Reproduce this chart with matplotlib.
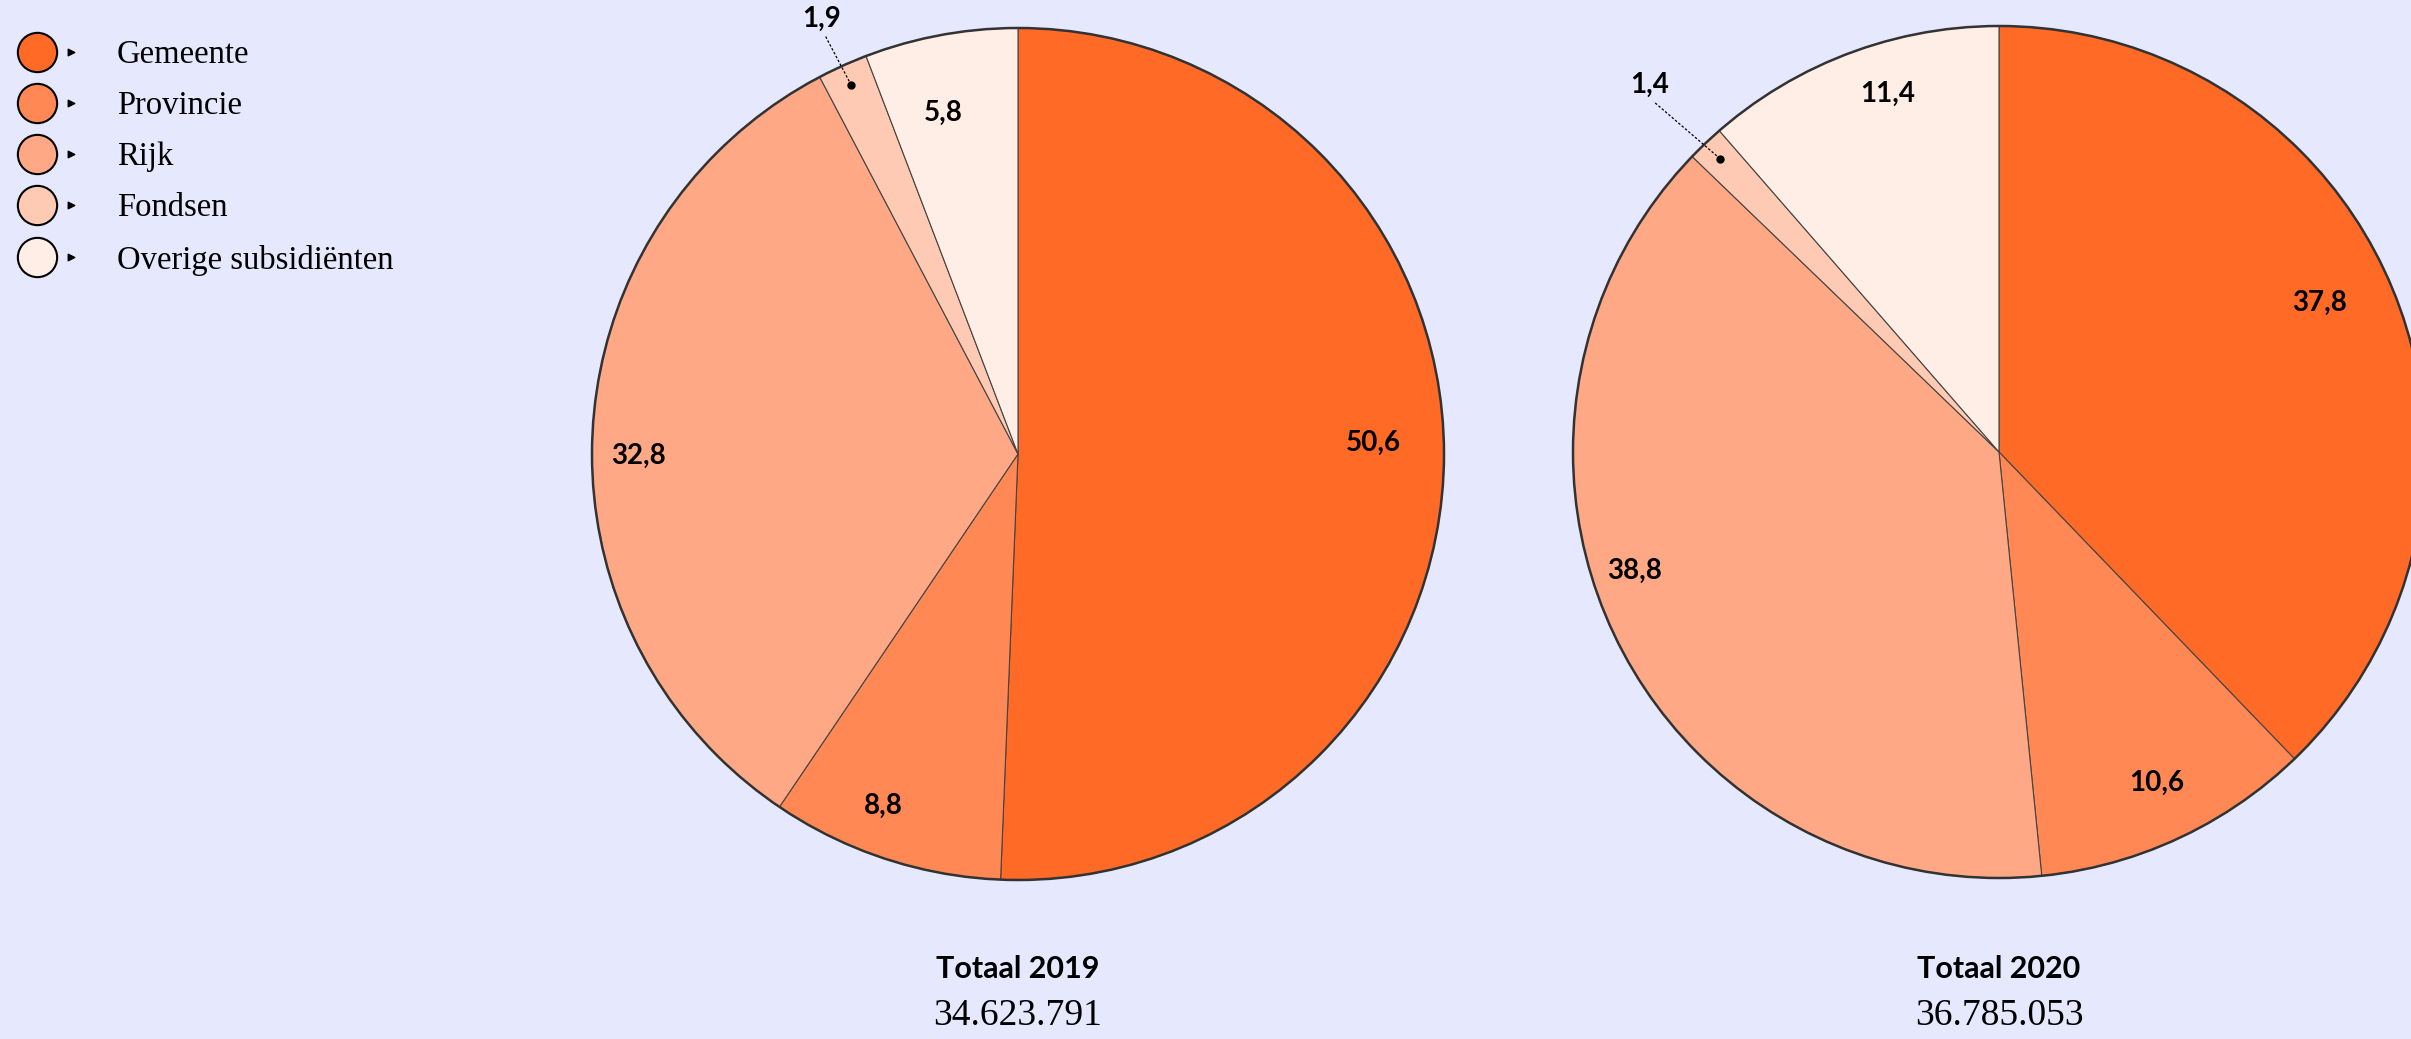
import matplotlib.pyplot as plt
from matplotlib.patches import Circle
import numpy as np

# --- data ---
categories = ["Gemeente", "Provincie", "Rijk", "Fondsen", "Overige subsidiënten"]
shares_2019 = [50.6, 8.8, 32.8, 1.9, 5.8]
shares_2020 = [37.8, 10.6, 38.8, 1.4, 11.4]
years = [2019, 2020]
totals = [34623791, 36785053]

colors = ["#FF6A27", "#FF8855", "#FFA886", "#FFCAB3", "#FFEEE6"]
bg = "#E6E8FE"
W, H = 2411, 1039

fig = plt.figure(figsize=(W / 100, H / 100), dpi=100, facecolor=bg)
ax = fig.add_axes([0, 0, 1, 1])
ax.set_facecolor(bg)

# pie centres / radius in pixels (y measured from top)
centres = [(1018, 454), (1999, 452)]
radius = 426
# label placement tweaks: distance (fraction of radius) and angle nudge (deg)
label_r = [[0.835, 0.885, 0.89, 1.12, 0.82], [0.83, 0.86, 0.90, 1.19, 0.88]]
label_da = [[2.9, -2.8, 3.4, 0, 1.9], [3.0, 0.7, -7.8, 0, -3.2]]


def fmt(v):
    return f"{v:.1f}".replace(".", ",")


for shares, (cx, cy), year, total, lr, lda in zip(
        [shares_2019, shares_2020], centres, years, totals, label_r, label_da):
    cy = H - cy
    wedges, _ = ax.pie(shares, colors=colors, startangle=90, counterclock=False,
                       center=(cx, cy), radius=radius,
                       wedgeprops=dict(edgecolor="#444444", linewidth=0.8))
    ax.add_patch(Circle((cx, cy), radius, fill=False, edgecolor="#333333", lw=1.8, zorder=3))

    for w, v, r, da in zip(wedges, shares, lr, lda):
        ang = np.deg2rad((w.theta1 + w.theta2) / 2 + da)
        x = cx + r * radius * np.cos(ang)
        y = cy + r * radius * np.sin(ang)
        if v < 3:
            # tiny slice: label outside with dotted leader to a dot
            dx = cx + 0.95 * radius * np.cos(ang)
            dy = cy + 0.95 * radius * np.sin(ang)
            ax.plot(dx, dy, "o", color="black", ms=5, zorder=4)
            ax.plot([dx, x + 4], [dy, y - 17], ls=(0, (2, 1.5)),
                    color="black", lw=0.9, zorder=4)
        ax.text(x, y, fmt(v), ha="center", va="center", fontsize=20,
                fontweight="bold", family="Lato", zorder=5)

    ax.text(cx, H - 969, f"Totaal {year}", ha="center", va="center",
            fontsize=22, fontweight="bold", family="Lato")
    ax.text(cx, H - 1016, f"{total:,}".replace(",", "."), ha="center", va="center",
            fontsize=27, family="Liberation Serif")

# --- legend ---
leg_y = [52, 103, 154, 205, 257]
for cat, col, y in zip(categories, colors, leg_y):
    ax.scatter(37, H - y, s=800, color=col, edgecolor="black", linewidth=1.5, zorder=5)
    ax.scatter(71, H - y, s=22, marker=">", color="black", zorder=5)
    ax.text(117, H - y - 3, cat, ha="left", va="center", fontsize=23.5,
            family="Liberation Serif")

ax.set_xlim(0, W)
ax.set_ylim(0, H)
ax.set_aspect("auto")
ax.axis("off")

fig.savefig("out.png", dpi=100, facecolor=bg)
